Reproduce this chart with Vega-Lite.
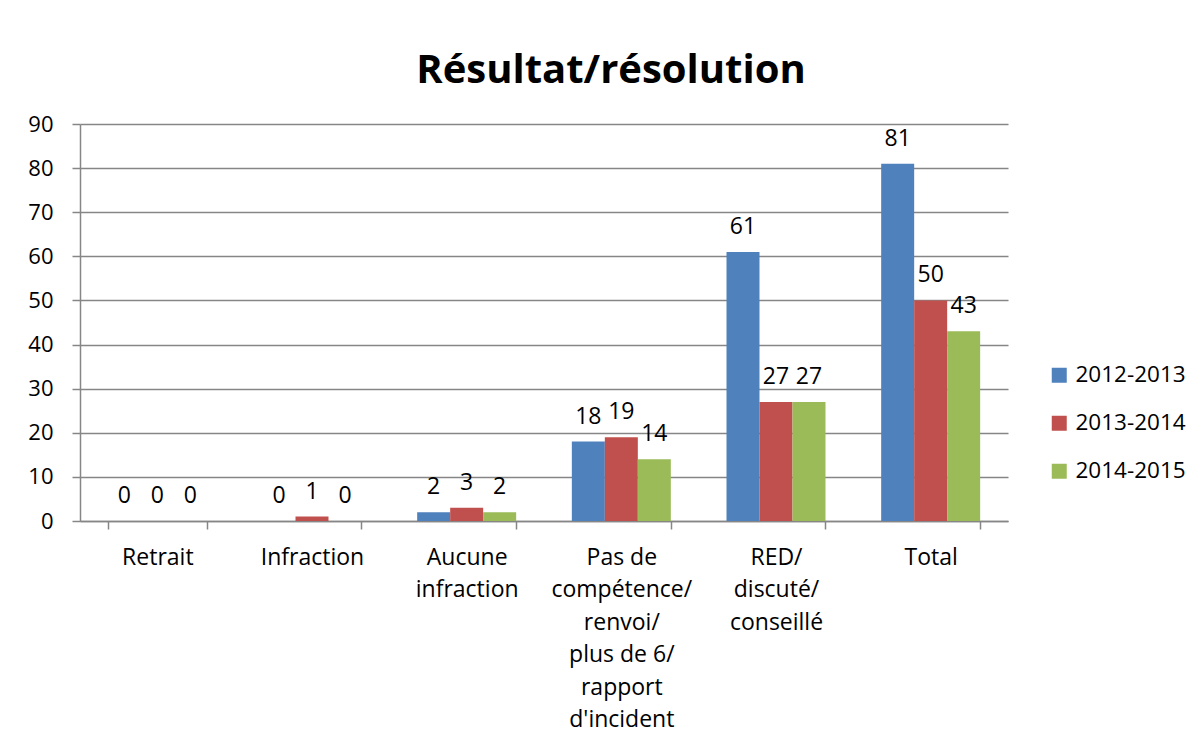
{
  "$schema": "https://vega.github.io/schema/vega-lite/v6.json",
  "width": 928,
  "height": 397,
  "autosize": "none",
  "padding": {"left": 80, "top": 124, "right": 195, "bottom": 221},
  "background": "white",
  "title": {
    "text": "Résultat/résolution",
    "font": "Open Sans",
    "fontSize": 40,
    "fontWeight": "bold",
    "color": "#000000",
    "anchor": "middle",
    "frame": "group",
    "dx": 67,
    "offset": -10,
    "baseline": "alphabetic"
  },
  "config": {
    "view": {"stroke": null},
    "font": "Open Sans"
  },
  "data": {
    "values": [
      {"categorie": "Retrait", "annee": "2012-2013", "valeur": 0},
      {"categorie": "Retrait", "annee": "2013-2014", "valeur": 0},
      {"categorie": "Retrait", "annee": "2014-2015", "valeur": 0},
      {"categorie": "Infraction", "annee": "2012-2013", "valeur": 0},
      {"categorie": "Infraction", "annee": "2013-2014", "valeur": 1},
      {"categorie": "Infraction", "annee": "2014-2015", "valeur": 0},
      {"categorie": "Aucune\ninfraction", "annee": "2012-2013", "valeur": 2},
      {"categorie": "Aucune\ninfraction", "annee": "2013-2014", "valeur": 3},
      {"categorie": "Aucune\ninfraction", "annee": "2014-2015", "valeur": 2},
      {"categorie": "Pas de\ncompétence/\nrenvoi/\nplus de 6/\nrapport\nd'incident", "annee": "2012-2013", "valeur": 18},
      {"categorie": "Pas de\ncompétence/\nrenvoi/\nplus de 6/\nrapport\nd'incident", "annee": "2013-2014", "valeur": 19},
      {"categorie": "Pas de\ncompétence/\nrenvoi/\nplus de 6/\nrapport\nd'incident", "annee": "2014-2015", "valeur": 14},
      {"categorie": "RED/\ndiscuté/\nconseillé", "annee": "2012-2013", "valeur": 61},
      {"categorie": "RED/\ndiscuté/\nconseillé", "annee": "2013-2014", "valeur": 27},
      {"categorie": "RED/\ndiscuté/\nconseillé", "annee": "2014-2015", "valeur": 27},
      {"categorie": "Total", "annee": "2012-2013", "valeur": 81},
      {"categorie": "Total", "annee": "2013-2014", "valeur": 50},
      {"categorie": "Total", "annee": "2014-2015", "valeur": 43}
    ]
  },
  "encoding": {
    "x": {
      "field": "categorie",
      "type": "nominal",
      "sort": null,
      "scale": {"paddingInner": 0.36, "paddingOuter": 0.18},
      "axis": {
        "title": null,
        "labelExpr": "split(datum.label, '\\n')",
        "labelAngle": 0,
        "labelFont": "Open Sans",
        "labelFontSize": 23,
        "labelColor": "#000000",
        "labelLineHeight": 32.5,
        "labelBaseline": "top",
        "labelPadding": 17,
        "labelLimit": 300,
        "domainColor": "#868686",
        "domainWidth": 1.5,
        "tickColor": "#868686",
        "tickWidth": 1.5,
        "tickSize": 8,
        "tickBand": "extent",
        "grid": false
      }
    },
    "xOffset": {
      "field": "annee",
      "type": "nominal",
      "sort": null,
      "scale": {"paddingInner": 0, "paddingOuter": 0}
    },
    "y": {
      "field": "valeur",
      "type": "quantitative",
      "scale": {"domain": [0, 90], "nice": false},
      "axis": {
        "title": null,
        "values": [0, 10, 20, 30, 40, 50, 60, 70, 80, 90],
        "labelFont": "Open Sans",
        "labelFontSize": 22,
        "labelColor": "#000000",
        "labelPadding": 19,
        "domainColor": "#868686",
        "domainWidth": 1.5,
        "tickColor": "#868686",
        "tickWidth": 1.5,
        "tickSize": 8,
        "grid": true,
        "gridColor": "#868686",
        "gridWidth": 1.5
      }
    }
  },
  "layer": [
    {
      "mark": {"type": "bar"},
      "encoding": {
        "color": {
          "field": "annee",
          "type": "nominal",
          "sort": null,
          "scale": {
            "domain": ["2012-2013", "2013-2014", "2014-2015"],
            "range": ["#4F81BD", "#C0504D", "#9BBB59"]
          },
          "legend": {
            "title": null,
            "orient": "none",
            "legendX": 968,
            "legendY": 240,
            "symbolType": "square",
            "symbolSize": 225,
            "symbolStrokeWidth": 0,
            "labelFont": "Open Sans",
            "labelFontSize": 22.5,
            "labelColor": "#000000",
            "labelOffset": 5,
            "rowPadding": 25,
            "padding": 0
          }
        }
      }
    },
    {
      "mark": {
        "type": "text",
        "dy": -18,
        "baseline": "alphabetic",
        "font": "Open Sans",
        "fontSize": 23,
        "color": "#000000"
      },
      "encoding": {
        "text": {"field": "valeur", "type": "quantitative"}
      }
    }
  ]
}
